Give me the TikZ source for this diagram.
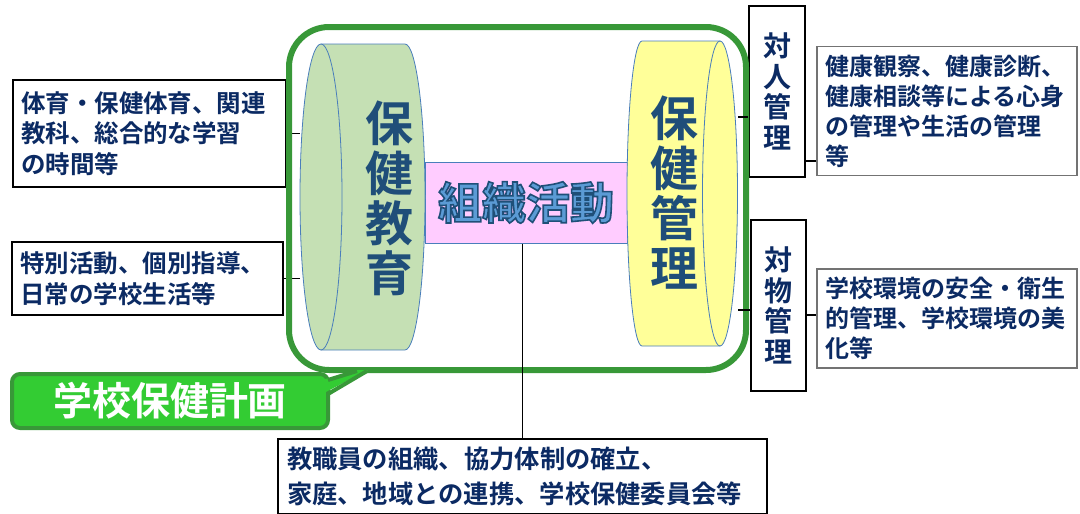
\documentclass[tikz,border=0pt]{standalone}
\usepackage{fontspec}
\setmainfont{Noto Sans CJK JP}[BoldFont=* Bold]
\usetikzlibrary{positioning}
\definecolor{frameGreen}{HTML}{389838}
\definecolor{titleGreen}{HTML}{33CC33}
\definecolor{navy}{HTML}{0B2A63}
\definecolor{deepBlue}{HTML}{1F4E79}
\definecolor{orgBlue}{HTML}{5B9BD5}
\definecolor{cylEdge}{HTML}{4A7EBB}
\definecolor{eduGreen}{HTML}{C5E0B4}
\definecolor{mgmtYellow}{HTML}{FFFF99}
\definecolor{orgPink}{HTML}{FFCCFF}
\newcommand\outlined[1]{\special{pdf:code 0.12 0.31 0.47 RG 2 Tr 1.6 w}#1}
\tikzset{txtbox/.style={draw,line width=1.5pt,inner sep=8pt,align=left,text=navy,
           font=\fontsize{24.5}{30.5}\selectfont\bfseries},
         descbox/.style={txtbox,draw=black!55,line width=1.1pt,
           font=\fontsize{24}{30}\selectfont\bfseries},
         vbox/.style={draw,line width=1.5pt,align=center,text=navy,inner sep=2pt,
           font=\fontsize{28}{30.5}\selectfont\bfseries},
         cyl/.style={draw=cylEdge,line width=0.8pt},
         bigtxt/.style={align=center,text=deepBlue,font=\fontsize{48}{50}\selectfont\bfseries},
         conn/.style={draw,line width=1.8pt},
         frame/.style={draw=frameGreen,line width=6pt,rounded corners=40pt},
         titlebox/.style={fill=titleGreen,draw=frameGreen,line width=4pt,rounded corners=8pt,
           text=white,font=\fontsize{39}{40}\selectfont\bfseries},
         }
\begin{document}
\begin{tikzpicture}[x=1pt,y=-1pt]
\useasboundingbox (0,0) rectangle (1080,514);
\node[draw=cylEdge,line width=1pt,fill=orgPink,minimum width=202pt,minimum height=81pt,
      text=orgBlue,font=\fontsize{44}{46}\selectfont\bfseries] (org) at (526,202.5) {\outlined{組織活動}};
\filldraw[cyl,fill=eduGreen] (321,44) -- (405,44) .. controls (416,44) and (425,112.5) .. (425,197)
   .. controls (425,281.5) and (416,350) .. (405,350) -- (321,350) -- cycle;
\filldraw[cyl,fill=eduGreen] (321,197) ellipse [x radius=21pt,y radius=153pt];
\filldraw[cyl,fill=mgmtYellow] (720,41) -- (642,41) .. controls (633.7,41) and (627,109.3) .. (627,193.5)
   .. controls (627,277.7) and (633.7,346) .. (642,346) -- (720,346) -- cycle;
\filldraw[cyl,fill=mgmtYellow] (720,193.5) ellipse [x radius=17.5pt,y radius=152.5pt];
\node[bigtxt] (edu) at (389,198) {保\\健\\教\\育};
\node[bigtxt] (mgmt) at (674,193) {保\\健\\管\\理};
\coordinate (cylL) at (300,197);
\coordinate (pin) at (738,117);
\coordinate (tin) at (738,310);
\coordinate (pout) at (805,161);
\coordinate (tout) at (806,315);

\node[txtbox,minimum width=273pt,minimum height=107pt,text width=257pt] (subj) at (149.5,133.5)
   {体育・保健体育、関連\\教科、総合的な学習\\の時間等};
\node[txtbox,minimum width=271pt,minimum height=73pt,text width=255pt] (act) at (147.5,278.5)
   {特別活動、個別指導、\\日常の学校生活等};
\node[vbox,minimum width=56pt,minimum height=171pt] (person) at (777,91.5) {対\\人\\管\\理};
\node[vbox,minimum width=55pt,minimum height=171pt] (thing) at (778.5,305.5) {対\\物\\管\\理};
\node[descbox,minimum width=260pt,minimum height=128pt,text width=244pt] (care) at (947,111)
   {健康観察、健康診断、\\健康相談等による心身\\の管理や生活の管理\\等};
\node[descbox,minimum width=260pt,minimum height=99pt,text width=244pt] (env) at (947,318.5)
   {学校環境の安全・衛生\\的管理、学校環境の美\\化等};
\node[txtbox,minimum width=489pt,minimum height=73pt,text width=471pt,
      font=\fontsize{25.3}{35}\selectfont\bfseries] (staff) at (522.5,476.5)
   {教職員の組織、協力体制の確立、\\家庭、地域との連携、学校保健委員会等};

\draw[conn] (subj.east) -- (subj.east -| cylL);
\draw[conn] (act.east) -- (act.east -| cylL);
\draw[frame] (289,27) rectangle (746,370);
\draw[conn] (pin) -- (pin -| person.west);
\draw[conn] (tin) -- (tin -| thing.west);
\draw[conn] (pout) -- (pout -| care.west);
\draw[conn] (tout) -- (tout -| env.west);
\draw[conn] (org.south -| staff.north) -- (staff.north);

\node[titlebox,minimum width=316pt,minimum height=54pt] (title) at (170,401) {学校保健計画};
\fill[titleGreen] (322,380) -- (356,370) -- (368,370) -- (322,394) -- cycle;
\draw[frameGreen,line width=4pt,line join=round] (328,380) -- (357,371);
\draw[frameGreen,line width=4pt,line join=round] (328,394) -- (367,371);
\end{tikzpicture}
\end{document}
